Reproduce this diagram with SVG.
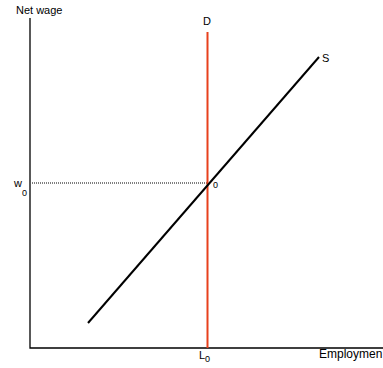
<svg xmlns="http://www.w3.org/2000/svg" width="383" height="368" viewBox="0 0 383 368">
<style>
text{font-family:"Liberation Sans",Arial,sans-serif;font-size:11px;fill:#000}
.sub{font-size:9px}
.ax{stroke:#000;stroke-width:1.3;fill:none}
</style>
<rect width="383" height="368" fill="#fff"/>
<g id="axes">
<path class="ax" d="M30,18 V348 H383"/>
</g>
<g id="connectors">
<line x1="32" y1="183" x2="207" y2="183" stroke="#000" stroke-width="1" stroke-dasharray="1,1"/>
<line id="D" x1="207.5" y1="32" x2="207.5" y2="348" stroke="#e8401c" stroke-width="2"/>
<line id="S" x1="88" y1="323" x2="319" y2="57" stroke="#000" stroke-width="2"/>
</g>
<g id="labels">
<text x="16" y="14">Net wage</text>
<text x="207" y="25" text-anchor="middle">D</text>
<text x="322" y="62">S</text>
<text x="14" y="187">w</text>
<text x="22" y="196" class="sub">0</text>
<text x="213" y="188" class="sub">0</text>
<text x="199" y="359">L</text>
<text x="205" y="362" class="sub">0</text>
<text x="319" y="358" style="font-size:12px">Employmen</text>
</g>
</svg>
